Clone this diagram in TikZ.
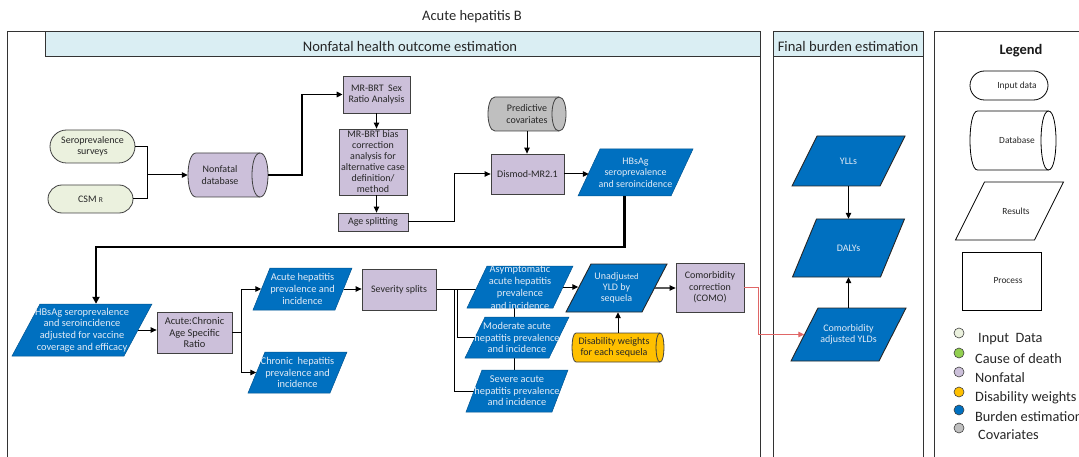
\documentclass[tikz,border=0pt]{standalone}
\usepackage{fontspec}
\setmainfont{Carlito}
\usetikzlibrary{arrows.meta,shapes.misc,calc}

\definecolor{inputfill}{HTML}{EBF1DE}
\definecolor{nonfatal}{HTML}{CCC0DA}
\definecolor{covgray}{HTML}{BFBFBF}
\definecolor{dwyellow}{HTML}{FFC000}
\definecolor{burden}{HTML}{0070C0}
\definecolor{burdentext}{HTML}{E2EBF6}
\definecolor{headerfill}{HTML}{DAEEF3}
\definecolor{edgegray}{HTML}{404040}
\definecolor{comored}{HTML}{E06666}
\definecolor{causegreen}{HTML}{92D050}

\pgfdeclarelayer{bg}
\pgfsetlayers{bg,main}

\tikzset{
  txt/.style={font=\fontsize{10}{11.5}\selectfont, align=center, text=black!85, inner sep=0pt},
  bluetxt/.style={txt, text=burdentext},
  legtxt/.style={font=\fontsize{9.4}{10.5}\selectfont, align=center, text=black!85, inner sep=0pt},
  proc/.style={txt, draw=edgegray, line width=0.8pt, fill=nonfatal},
  inputst/.style={txt, rounded rectangle, draw=edgegray, line width=0.8pt, fill=inputfill},
  leginput/.style={legtxt, rounded rectangle, draw=black, line width=0.8pt, fill=white},
  legbox/.style={legtxt, draw=black, line width=0.8pt, fill=white},
  bluepara/.style={fill=burden, draw=burden!75!black, line width=0.5pt},
  blueedge/.style={fill=burden, draw=black!85, line width=0.9pt},
  legpara/.style={fill=white, draw=black, line width=0.8pt},
  dbcyl/.style={fill=nonfatal, draw=edgegray, line width=0.8pt},
  covcyl/.style={fill=covgray, draw=edgegray, line width=0.8pt},
  dwcyl/.style={fill=dwyellow, draw=edgegray, line width=0.8pt},
  legcyl/.style={fill=white, draw=black, line width=0.8pt},
  panel/.style={draw=black!80, line width=1pt},
  head/.style={font=\fontsize{14.6}{16}\selectfont, text=black!85, inner sep=0pt},
  legdot/.style={circle, draw=edgegray, line width=0.6pt, minimum size=10pt, inner sep=0pt},
  legent/.style={anchor=west, font=\fontsize{14.3}{16}\selectfont, text=black!85, inner sep=0pt},
  link/.style={draw=black, line width=1pt},
  arr/.style={link, -{Triangle[length=6pt,width=5.5pt]}},
  bigarr/.style={draw=black, line width=2.4pt, -{Triangle[length=7pt,width=7pt]}},
  grayarr/.style={draw=black!65, line width=1.2pt, -{Triangle[length=6pt,width=5.5pt,fill=black,color=black]}},
  redarr/.style={draw=comored, line width=0.9pt, -{Triangle[length=6pt,width=5.5pt]}},
}

% parallelogram leaning right: shape style, text style, name, cx, cy, edge width, height, slant, text
\newcommand\paranode[9]{%
  \path[#1] ({#4-#6/2+#8/2},{#5-#7/2}) -- ({#4+#6/2+#8/2},{#5-#7/2})
     -- ({#4+#6/2-#8/2},{#5+#7/2}) -- ({#4-#6/2-#8/2},{#5+#7/2}) -- cycle;
  \node[#2, minimum width=#6pt, minimum height=#7pt] (#3) at (#4,#5) {#9};
}

% horizontal drum (stored data): shape style, text style, name, cx, cy, width, height, end radius, text
\newcommand\cylnode[9]{%
  \path[#1] ({#4-#6/2+#8},{#5-#7/2}) -- ({#4+#6/2-#8},{#5-#7/2})
    .. controls ({#4+#6/2+#8/3},{#5-#7/2}) and ({#4+#6/2+#8/3},{#5+#7/2}) .. ({#4+#6/2-#8},{#5+#7/2})
    -- ({#4-#6/2+#8},{#5+#7/2})
    .. controls ({#4-#6/2-#8/3},{#5+#7/2}) and ({#4-#6/2-#8/3},{#5-#7/2}) .. ({#4-#6/2+#8},{#5-#7/2}) -- cycle;
  \path[#1, fill=none] ({#4+#6/2-#8},{#5-#7/2})
    .. controls ({#4+#6/2-#8-4/3*#8},{#5-#7/2}) and ({#4+#6/2-#8-4/3*#8},{#5+#7/2}) .. ({#4+#6/2-#8},{#5+#7/2});
  \node[inner sep=0pt, minimum width=#6pt, minimum height=#7pt] (#3) at (#4,#5) {};
  \node[#2] (#3-t) at ({#4-#8},#5) {#9};
}

\begin{document}
\begin{tikzpicture}[x=1pt, y=-1pt]
\useasboundingbox (0,0) rectangle (1079,457);
\clip (0,0) rectangle (1079,457);

% title
\node[font=\fontsize{14.5}{16}\selectfont, text=black!85] (title) at (472,17) {Acute hepatitis B};

% swimlane panels
\draw[panel] (7,32) rectangle (760,470);
\filldraw[panel, fill=headerfill] (45.5,32) rectangle (760,57);
\node[head] (nfhead) at (410,46) {Nonfatal health outcome estimation};
\draw[panel] (773,32) rectangle (923,470);
\filldraw[panel, fill=headerfill] (773,32) rectangle (923,57);
\node[head] (fbhead) at (848,46) {Final burden estimation};
\draw[panel] (934,32) rectangle (1100,470);

% inputs and database
\node[inputst, minimum width=85pt, minimum height=33pt] (sero) at (92.5,146.5) {Seroprevalence\\surveys};
\node[inputst, minimum width=85pt, minimum height=28pt] (csm) at (90.5,199) {CSM {\fontsize{7.5}{8}\selectfont R}};
\cylnode{dbcyl}{txt}{ndb}{228}{175}{80}{44}{8}{Nonfatal\\database}

% processing steps
\node[proc, minimum width=67pt, minimum height=37pt] (sex) at (376.5,94.5) {MR-BRT\ \ Sex\\Ratio Analysis};
\node[proc, font=\fontsize{10}{11}\selectfont, minimum width=68pt, minimum height=66pt] (bias) at (373,162) {MR-BRT bias\\correction\\analysis for\\alternative case\\definition/\\method};
\node[proc, minimum width=70pt, minimum height=18pt] (age) at (373,222) {Age splitting};
\cylnode{covcyl}{txt,xshift=7pt}{cov}{527}{114}{78}{34}{7}{Predictive\\covariates}
\node[proc, minimum width=73pt, minimum height=40pt] (dis) at (527.5,174) {Dismod-MR2.1};
\paranode{bluepara}{bluetxt}{hb1}{635.5}{172.5}{93}{47}{22}{HBsAg\\seroprevalence\\and seroincidence}

% acute / chronic split
\paranode{bluepara}{bluetxt,font=\fontsize{10.4}{11.7}\selectfont}{hb2}{82}{330}{112}{52}{28}{HBsAg seroprevalence\\and seroincidence\\adjusted for vaccine\\coverage and efficacy}
\node[proc, font=\fontsize{10.4}{11.8}\selectfont, minimum width=75pt, minimum height=41pt] (ac) at (194.5,332.5) {Acute:Chronic\\Age Specific\\Ratio};
\paranode{bluepara}{bluetxt,font=\fontsize{10.4}{11.8}\selectfont}{acu}{302.5}{289}{82}{42}{17}{Acute hepatitis\\prevalence and\\incidence}
\paranode{bluepara}{bluetxt,font=\fontsize{10.4}{11.8}\selectfont}{chr}{297.5}{372.5}{82}{41}{17}{Chronic\ \ hepatitis\\prevalence and\\incidence}
\node[proc, minimum width=74pt, minimum height=41pt] (sev) at (399,289.5) {Severity splits};

% severity sequelae
\paranode{bluepara}{bluetxt,font=\fontsize{10.4}{12.3}\selectfont}{asy}{520}{287}{86}{42}{20}{Asymptomatic\\acute hepatitis\\prevalence\\and incidence}
\paranode{bluepara}{bluetxt,font=\fontsize{10.4}{11.5}\selectfont}{mod}{517}{337.5}{84}{41}{20}{Moderate acute\\hepatitis prevalence\\and incidence}
\paranode{bluepara}{bluetxt,font=\fontsize{10.4}{11.5}\selectfont}{sev2}{517}{391}{86}{42}{16}{Severe acute\\hepatitis prevalence\\and incidence}
\paranode{blueedge}{bluetxt,font=\fontsize{10}{10.8}\selectfont}{una}{616.5}{288}{76}{48}{25}{Unadju{\fontsize{8.5}{9}\selectfont sted}\\YLD by\\sequela}
\cylnode{dwcyl}{txt,font=\fontsize{10}{11}\selectfont}{dw}{618}{347.5}{92}{29}{4}{Disability weights\\for each sequela}
\node[proc, minimum width=68pt, minimum height=49pt] (como) at (710,287.5) {Comorbidity\\correction\\(COMO)};

% final burden
\paranode{blueedge}{bluetxt}{yll}{848.5}{161}{88}{50}{25}{YLLs}
\paranode{blueedge}{bluetxt}{dal}{848.5}{248}{88}{58}{24}{DALYs}
\paranode{blueedge}{bluetxt}{cay}{848.5}{334.5}{88}{53}{27}{Comorbidity\\adjusted YLDs}

% legend
\node[font=\bfseries\fontsize{14.5}{16}\selectfont, text=black!90] (legtitle) at (1021,51) {Legend};
\node[leginput, minimum width=78pt, minimum height=29pt] (linp) at (1009,85.5) {\hspace*{16pt}Input data};
\cylnode{legcyl}{legtxt,xshift=11.5pt}{ldb}{1013}{140.5}{86}{59}{7.5}{Database}
\paranode{legpara}{legtxt}{lres}{1009.5}{211}{79}{58}{29}{\hspace*{13pt}Results}
\node[legbox, minimum width=79pt, minimum height=58pt] (lproc) at (1001.5,281) {\hspace*{13pt}Process};

\node[legdot, fill=inputfill] (d1) at (959,333) {};
\node[legdot, fill=causegreen] (d2) at (959,353) {};
\node[legdot, fill=nonfatal] (d3) at (959,372) {};
\node[legdot, fill=dwyellow] (d4) at (959,392) {};
\node[legdot, fill=burden] (d5) at (959,410) {};
\node[legdot, fill=covgray] (d6) at (959,428) {};
\node[legent] (e1) at (978,339) {Input\ \ Data};
\node[legent] (e2) at (975,359) {Cause of death};
\node[legent] (e3) at (975,378) {Nonfatal};
\node[legent] (e4) at (975,398) {Disability weights};
\node[legent] (e5) at (975,417) {Burden estimation};
\node[legent] (e6) at (978,435) {Covariates};

% junction points of the elbow connectors
\coordinate (j1) at (147,175);
\coordinate (k1) at (302,94.5);
\coordinate (k2) at (454,174);
\coordinate (k3) at (96,247);
\coordinate (k4) at (241,332.5);
\coordinate (k5) at (454,289.5);
\coordinate (k6) at (457,289.5);
\coordinate (k7) at (758,287.5);

% plain branch lines, drawn behind the shapes
\begin{pgfonlayer}{bg}
  \draw[link] (sev.east) -- (sev.east -| asy.center);
  \draw[link] (k5) |- (sev2.center);
  \draw[link] (k6) |- (mod.center);
  \draw[link] ([xshift=-6pt]asy.center) -- ([xshift=-6pt]asy.center |- sev2.center);
\end{pgfonlayer}

% connectors
\draw[link] (sero.east) -| (j1);
\draw[link] (csm.east) -| (j1);
\draw[arr] (j1) -- (ndb.west);
\draw[arr, line width=1.4pt] (ndb.east) -| (k1) -- (sex.west);
\draw[arr] (sex.south) -- (sex.south |- bias.north);
\draw[arr] (sex.south |- bias.south) -- (sex.south |- age.north);
\draw[arr] (age.east) -| (k2) -- (dis.west);
\draw[arr] (cov.south) -- (cov.south |- dis.north);
\draw[arr] (dis.east) -- (dis.east -| hb1.west);
\draw[bigarr] ([xshift=-11pt]hb1.south) |- (k3) -- (k3 |- hb2.north);
\draw[arr] (hb2.east) -- (hb2.east -| ac.west);
\draw[link] (ac.east) -- (k4);
\draw[arr] (k4) |- (acu.west);
\draw[arr] (k4) |- (chr.west);
\draw[arr] (acu.east) -- (acu.east -| sev.west);
\draw[arr] (asy.east) -- (asy.east -| una.west);
\draw[grayarr] (una.east) -- (una.east -| como.west);
\draw[arr] (dw.north) -- (dw.north |- una.south);
\draw[redarr] (como.east) -- (k7) |- (cay.west);
\draw[arr] (yll.south) -- (dal.north);
\draw[arr] (cay.north) -- (dal.south);
\end{tikzpicture}
\end{document}
